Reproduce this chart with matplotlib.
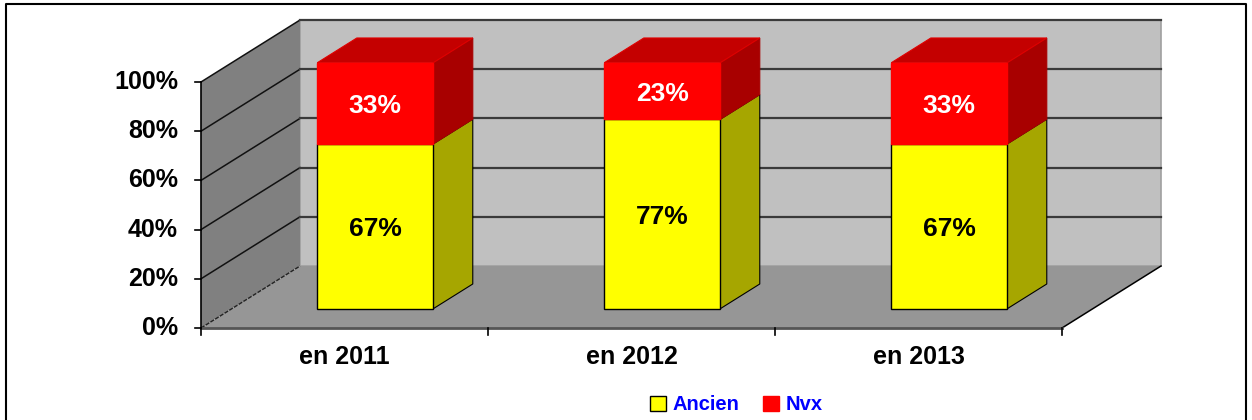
import numpy as np
import matplotlib.pyplot as plt
from matplotlib.patches import Patch
from matplotlib.lines import Line2D

plt.rcParams['font.family'] = ['Liberation Sans', 'DejaVu Sans']
plt.rcParams['font.weight'] = 'bold'

# data
categories = ["en 2011", "en 2012", "en 2013"]
ancien = [67, 77, 67]
nvx = [33, 23, 33]
yticks = [0, 20, 40, 60, 80, 100]

# 3d look (oblique projection, in data units)
D = 0.345   # depth shift along x (category units)
H = 25.2    # depth shift along y (percent units)
d0, d1 = 0.31, 0.71   # bar depth position
bw = 0.404            # bar width

fig = plt.figure(figsize=(12.52, 4.2), dpi=100)
ax = fig.add_axes([0, 0, 1, 1])
ax.set_xlim(-201 / 287, (1252 - 201) / 287)
ax.set_ylim(-(420 - 328) / 2.46, 328 / 2.46)
ax.axis('off')

n = len(categories)

def pt(x, y, d):
    return (x + d * D, y + d * H)

# back wall, side wall, floor
back = [pt(0, 0, 1), pt(n, 0, 1), pt(n, 100, 1), pt(0, 100, 1)]
side = [pt(0, 0, 0), pt(0, 0, 1), pt(0, 100, 1), pt(0, 100, 0)]
floor = [pt(0, 0, 0), pt(n, 0, 0), pt(n, 0, 1), pt(0, 0, 1)]
ax.fill(*zip(*back), facecolor='#c0c0c0', edgecolor='#a0a0a0', lw=1.2, zorder=1)
ax.fill(*zip(*side), facecolor='#808080', edgecolor='none', zorder=1)
ax.fill(*zip(*floor), facecolor='#969696', edgecolor='none', zorder=1)

# gridlines
for v in yticks[1:]:
    a, b, c = pt(0, v, 0), pt(0, v, 1), pt(n, v, 1)
    ax.plot([a[0], b[0]], [a[1], b[1]], color='#111111', lw=1.1, zorder=2)
    ax.plot([b[0], c[0]], [b[1], c[1]], color='#3a3a3a', lw=1.6, zorder=2)
a, b = pt(0, 0, 0), pt(0, 0, 1)
ax.plot([a[0], b[0]], [a[1], b[1]], color='#222222', lw=1, ls=(0, (3, 1)), zorder=2)
a, b = pt(n, 0, 0), pt(n, 0, 1)
ax.plot([a[0], b[0]], [a[1], b[1]], color='black', lw=1.1, zorder=2)
ax.plot([0, n], [0, 0], color='#555555', lw=2, zorder=2)
ax.plot([0, 0], [0, 100], color='black', lw=1.2, zorder=3)

# axis ticks and labels
for v in yticks:
    ax.plot([-0.021, 0], [v, v], color='black', lw=1.2, zorder=3)
    ax.text(-0.08, v, f"{v}%", ha='right', va='center', fontsize=18, fontweight='bold')
for i in range(n + 1):
    ax.plot([i, i], [0, -2.8], color='black', lw=1.2, zorder=3)
for i, lab in enumerate(categories):
    ax.text(i + 0.5, -11.8, lab, ha='center', va='center', fontsize=18, fontweight='bold')

# bars
segs = [(ancien, '#ffff00', '#a6a600', 'black'), (nvx, '#ff0000', '#a80000', 'white')]
for i in range(n):
    xl = i + 0.5 - bw / 2
    xr = i + 0.5 + bw / 2
    base = 0
    for k, (vals, cf, cs, tc) in enumerate(segs):
        top = base + vals[i]
        front = [pt(xl, base, d0), pt(xr, base, d0), pt(xr, top, d0), pt(xl, top, d0)]
        sidef = [pt(xr, base, d0), pt(xr, base, d1), pt(xr, top, d1), pt(xr, top, d0)]
        ec = 'black' if k == 0 else cf
        ax.fill(*zip(*sidef), facecolor=cs, edgecolor='black' if k == 0 else cs, lw=0.8, zorder=4)
        ax.fill(*zip(*front), facecolor=cf, edgecolor=ec, lw=1, zorder=5)
        if k == len(segs) - 1:
            topf = [pt(xl, top, d0), pt(xr, top, d0), pt(xr, top, d1), pt(xl, top, d1)]
            ax.fill(*zip(*topf), facecolor='#c40000', edgecolor='#e00000', lw=0.8, zorder=4)
        cx, cy = pt(i + 0.5, (base + top) / 2, d0)
        ax.text(cx, cy - 1, f"{vals[i]}%", ha='center', va='center', color=tc,
                fontsize=19, fontweight='bold', zorder=6)
        base = top

# legend
handles = [Patch(facecolor='#ffff00', edgecolor='black', label='Ancien'),
           Patch(facecolor='#ff0000', edgecolor='#ff0000', label='Nvx')]
fig.legend(handles=handles, loc='center', bbox_to_anchor=(0.588, 15 / 420), ncol=2,
           frameon=False, handlelength=0.8, handleheight=0.8, handletextpad=0.3,
           columnspacing=1.2, labelcolor='#0000ff', prop={'weight': 'bold', 'size': 14.5})

# outer frame (bottom is cut off)
W, Hh = 1252, 420
fig.add_artist(Line2D([6 / W, 6 / W, 1246 / W, 1246 / W],
                      [0, 1 - 4 / Hh, 1 - 4 / Hh, 0], color='black', lw=1.5))

fig.savefig('out.png', dpi=100)
